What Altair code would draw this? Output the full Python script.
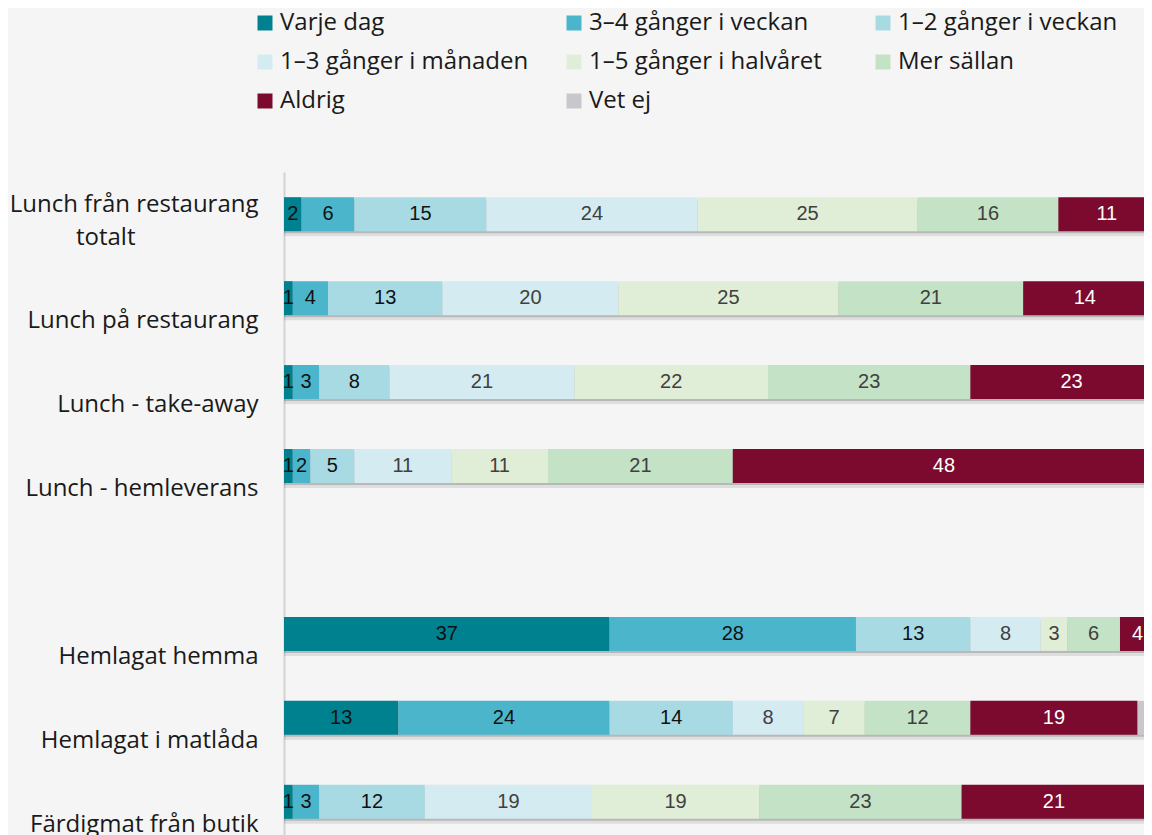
import altair as alt
import pandas as pd

rows = [
    "Lunch från restaurang totalt",
    "Lunch på restaurang",
    "Lunch - take-away",
    "Lunch - hemleverans",
    "Hemlagat hemma",
    "Hemlagat i matlåda",
    "Färdigmat från butik",
]
row_domain = rows[:4] + [" "] + rows[4:]

categories = [
    "Varje dag",
    "3–4 gånger i veckan",
    "1–2 gånger i veckan",
    "1–3 gånger i månaden",
    "1–5 gånger i halvåret",
    "Mer sällan",
    "Aldrig",
    "Vet ej",
]
colors = ["#00818F", "#4BB6CB", "#A8DAE4", "#D4EBF1", "#E0EED7", "#C4E2C5", "#7B0A2E", "#C8C8CC"]
text_colors = ["#111111", "#111111", "#111111", "#404040", "#404040", "#404040", "#FFFFFF", "#404040"]

varje_dag = [2, 1, 1, 1, 37, 13, 1]
ggr_3_4_vecka = [6, 4, 3, 2, 28, 24, 3]
ggr_1_2_vecka = [15, 13, 8, 5, 13, 14, 12]
ggr_1_3_manad = [24, 20, 21, 11, 8, 8, 19]
ggr_1_5_halvar = [25, 25, 22, 11, 3, 7, 19]
mer_sallan = [16, 21, 23, 21, 6, 12, 23]
aldrig = [11, 14, 23, 48, 4, 19, 21]
vet_ej = [1, 1, 0, 1, 1, 3, 2]

series = [varje_dag, ggr_3_4_vecka, ggr_1_2_vecka, ggr_1_3_manad,
          ggr_1_5_halvar, mer_sallan, aldrig, vet_ej]

records = []
for j, (cat, vals) in enumerate(zip(categories, series)):
    for r, v in zip(rows, vals):
        records.append({"row": r, "category": cat, "value": v, "ord": j,
                        "tcolor": text_colors[j]})
df = pd.DataFrame(records)

x_scale = alt.Scale(domain=[0, 97.73], nice=False, zero=True)
y_scale = alt.Scale(domain=row_domain, paddingInner=0.595, paddingOuter=0.3)

fill = "\u2800" * 7
label_expr = (
    "datum.value == 'Lunch från restaurang totalt' ? "
    "['Lunch från restaurang', 'totalt" + fill + "'] : datum.label"
)

y_axis = alt.Axis(
    title=None, ticks=False, tickSize=0, domain=True, domainColor="#D3D3D3",
    domainWidth=2, labelFont="Open Sans, DejaVu Sans", labelFontSize=24, labelColor="#1a1a1a",
    labelPadding=26, labelLimit=500, labelExpr=label_expr, labelLineHeight=33,
    labelOffset={"condition": {"test": "datum.value == 'Lunch från restaurang totalt'",
                               "value": -9}, "value": 23},
)

base = alt.Chart(df)
Y = alt.Y("row:N", scale=y_scale, sort=row_domain, axis=y_axis)

shadow1 = base.mark_bar(color="#000000", opacity=0.09, yOffset=5, clip=True).encode(
    x=alt.X("sum(value):Q", scale=x_scale, axis=None), y=Y
)
shadow2 = base.mark_bar(color="#000000", opacity=0.17, yOffset=2, clip=True).encode(
    x=alt.X("sum(value):Q", scale=x_scale, axis=None), y=Y
)

bars = base.mark_bar(clip=True).encode(
    x=alt.X("value:Q", stack="zero", scale=x_scale, axis=None),
    y=Y,
    color=alt.Color(
        "category:N",
        scale=alt.Scale(domain=categories, range=colors),
        legend=alt.Legend(
            title=None, orient="none", legendX=-31, legendY=-161, columns=3,
            direction="horizontal",
            symbolType="square", symbolSize=225, symbolStrokeWidth=0,
            labelFont="Open Sans", labelFontSize=24, labelColor="#1a1a1a",
            labelOffset=3, rowPadding=15, columnPadding=33, gridAlign="all",
            padding=0, labelLimit=500,
        ),
    ),
    order=alt.Order("ord:Q", sort="ascending"),
)

texts = base.transform_filter("datum.value > 0").transform_stack(
    stack="value", groupby=["row"], as_=["x0", "x1"],
    sort=[alt.SortField("ord", order="ascending")],
).transform_calculate(mid="(datum.x0 + datum.x1) / 2").mark_text(
    font="Liberation Sans", fontSize=20, align="center", baseline="middle"
).encode(
    x=alt.X("mid:Q", scale=x_scale, axis=None),
    y=Y,
    text=alt.Text("value:Q"),
    color=alt.Color("tcolor:N", scale=None, legend=None),
)

chart = alt.layer(shadow1, shadow2, bars, texts).properties(
    width=860, height=672,
    padding={"left": 276, "top": 164, "right": 0, "bottom": 0},
    autosize=alt.AutoSizeParams(type="none"),
    background="#F5F5F5",
).configure_view(stroke=None)

chart.save("out.html", embed_options={"renderer": "svg", "actions": False})
